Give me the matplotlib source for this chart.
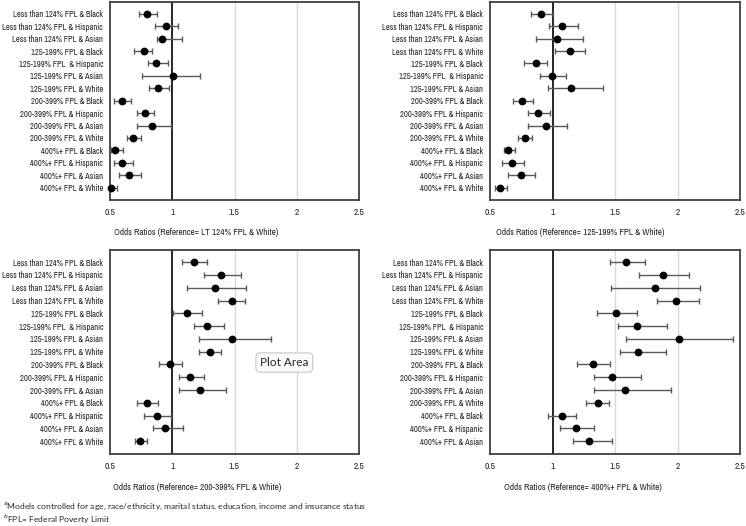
import matplotlib
matplotlib.use("Agg")
import matplotlib.pyplot as plt
from matplotlib import font_manager
import numpy as np

names = sorted({f.name for f in font_manager.fontManager.ttflist})
narrow = [n for n in names if "Narrow" in n or "Condensed" in n]
fam = narrow[0] if narrow else "Lato"
plt.rcParams['font.family'] = [fam, 'DejaVu Sans']

# ---------------- data ----------------
labels1 = ["Less than 124% FPL & Black", "Less than 124% FPL & Hispanic", "Less than 124% FPL & Asian",
           "125-199% FPL & Black", "125-199% FPL  & Hispanic", "125-199% FPL & Asian", "125-199% FPL & White",
           "200-399% FPL & Black", "200-399% FPL & Hispanic", "200-399% FPL & Asian", "200-399% FPL & White",
           "400%+ FPL & Black", "400%+ FPL & Hispanic", "400%+ FPL & Asian", "400%+ FPL & White"]
or1 = [0.80, 0.95, 0.915, 0.77, 0.873, 1.01, 0.883, 0.60, 0.784, 0.838, 0.682, 0.543, 0.60, 0.65, 0.505]
lo1 = [0.736, 0.862, 0.875, 0.696, 0.806, 0.76, 0.814, 0.532, 0.714, 0.714, 0.634, 0.505, 0.532, 0.575, 0.50]
hi1 = [0.875, 1.05, 1.079, 0.84, 0.969, 1.224, 0.972, 0.665, 0.854, 0.99, 0.747, 0.607, 0.688, 0.747, 0.554]

labels2 = ["Less than 124% FPL & Black", "Less than 124% FPL & Hispanic", "Less than 124% FPL & Asian",
           "Less than 124% FPL & White", "125-199% FPL & Black", "125-199% FPL  & Hispanic", "125-199% FPL & Asian",
           "200-399% FPL & Black", "200-399% FPL & Hispanic", "200-399% FPL & Asian", "200-399% FPL & White",
           "400%+ FPL & Black", "400%+ FPL & Hispanic", "400%+ FPL & Asian", "400%+ FPL & White"]
or2 = [0.908, 1.076, 1.039, 1.137, 0.865, 0.999, 1.145, 0.753, 0.881, 0.945, 0.777, 0.644, 0.676, 0.745, 0.577]
lo2 = [0.825, 0.972, 0.865, 1.02, 0.772, 0.90, 0.961, 0.681, 0.804, 0.804, 0.727, 0.615, 0.599, 0.644, 0.54]
hi2 = [1.007, 1.207, 1.241, 1.26, 0.953, 1.108, 1.407, 0.841, 0.98, 1.119, 0.839, 0.70, 0.772, 0.857, 0.633]

labels3 = ["Less than 124% FPL & Black", "Less than 124% FPL & Hispanic", "Less than 124% FPL & Asian",
           "Less than 124% FPL & White", "125-199% FPL & Black", "125-199% FPL  & Hispanic", "125-199% FPL & Asian",
           "125-199% FPL & White", "200-399% FPL & Black", "200-399% FPL & Hispanic", "200-399% FPL & Asian",
           "400%+ FPL & Black", "400%+ FPL & Hispanic", "400%+ FPL & Asian", "400%+ FPL & White"]
or3 = [1.178, 1.393, 1.347, 1.479, 1.117, 1.283, 1.479, 1.307, 0.985, 1.146, 1.221, 0.798, 0.875, 0.942, 0.744]
lo3 = [1.076, 1.256, 1.122, 1.371, 1.007, 1.176, 1.218, 1.216, 0.891, 1.055, 1.055, 0.714, 0.776, 0.843, 0.698]
hi3 = [1.277, 1.551, 1.594, 1.586, 1.237, 1.417, 1.792, 1.393, 1.076, 1.256, 1.43, 0.883, 0.99, 1.084, 0.80]

labels4 = ["Less than 124% FPL & Black", "Less than 124% FPL & Hispanic", "Less than 124% FPL & Asian",
           "Less than 124% FPL & White", "125-199% FPL & Black", "125-199% FPL  & Hispanic", "125-199% FPL & Asian",
           "125-199% FPL & White", "200-399% FPL & Black", "200-399% FPL & Hispanic", "200-399% FPL & Asian",
           "200-399% FPL & White", "400%+ FPL & Black", "400%+ FPL & Hispanic", "400%+ FPL & Asian"]
or4 = [1.588, 1.885, 1.816, 1.989, 1.508, 1.674, 2.008, 1.684, 1.324, 1.479, 1.578, 1.361, 1.078, 1.184, 1.294]
lo4 = [1.457, 1.695, 1.468, 1.837, 1.356, 1.521, 1.588, 1.537, 1.195, 1.329, 1.329, 1.27, 0.96, 1.061, 1.16]
hi4 = [1.738, 2.094, 2.179, 2.171, 1.676, 1.917, 2.441, 1.909, 1.463, 1.709, 1.949, 1.449, 1.19, 1.334, 1.476]

xlabels = ["Odds Ratios (Reference= LT 124% FPL & White)",
           "Odds Ratios (Reference= 125-199% FPL & White)",
           "Odds Ratios (Reference= 200-399% FPL & White)",
           "Odds Ratios (Reference= 400%+ FPL & White)"]
xticks = [0.5, 1, 1.5, 2, 2.5]
xticklabels = ["0.5", "1", "1.5", "2", "2.5"]

footnote1 = r"$^{a}$Models controlled for age, race/ethnicity, marital status, education, income and insurance status"
footnote2 = r"$^{b}$FPL= Federal Poverty Limit"

# ---------------- layout ----------------
W, H = 746, 526
fig = plt.figure(figsize=(W / 100, H / 100), dpi=100)

def rect(l, t, r, b):
    return [l / W, 1 - b / H, (r - l) / W, (b - t) / H]

panels = [
    (rect(110, 2, 359, 200), labels1, or1, lo1, hi1, xlabels[0], 0.345),
    (rect(490, 2, 740, 200), labels2, or2, lo2, hi2, xlabels[1], 0.36),
    (rect(110, 250, 359, 454), labels3, or3, lo3, hi3, xlabels[2], 0.35),
    (rect(490, 250, 740, 454), labels4, or4, lo4, hi4, xlabels[3], 0.37),
]

axes = []
for pos, labs, o, lo, hi, xl, xlx in panels:
    ax = fig.add_axes(pos)
    y = np.arange(1, len(labs) + 1)
    o = np.array(o); lo = np.array(lo); hi = np.array(hi)
    for xv in [1.5, 2, 2.5]:
        ax.axvline(xv, color="#d9d9d9", lw=1.0, zorder=0)
    ax.axvline(1, color="#262626", lw=1.4, zorder=1)
    ax.errorbar(o, y, xerr=[o - lo, hi - o], fmt="o", color="black", ms=4.6,
                ecolor="#595959", elinewidth=1.0, capsize=2.5, capthick=1.0, zorder=3, clip_on=False)
    ax.set_xlim(0.5, 2.5)
    ax.set_ylim(len(labs) + 1, 0.05)
    ax.set_yticks(y)
    ax.set_yticklabels(labs, fontsize=6.1, color="#262626")
    ax.set_xticks(xticks)
    ax.set_xticklabels(xticklabels, fontsize=6.8, color="#262626")
    ax.tick_params(axis="x", length=0, pad=6)
    ax.tick_params(axis="y", length=0, pad=5)
    for sp in ax.spines.values():
        sp.set_color("#404040")
        sp.set_linewidth(1.3)
    ax.set_xlabel(xl, fontsize=6.6, color="#262626")
    ax.xaxis.set_label_coords(xlx, -0.14)
    axes.append(ax)

# Excel "Plot Area" tooltip
axes[2].text(1.9, 8.85, "Plot Area", fontsize=8.5, color="#262626", ha="center", va="center",
             family=["Lato", "DejaVu Sans"],
             bbox=dict(boxstyle="round,pad=0.35", fc="#fbfbfb", ec="#c8c8c8", lw=0.8), zorder=5)

fig.text(3 / W, 1 - 506 / H, footnote1, fontsize=6.1, color="#262626", va="center", ha="left",
         family=["Lato", "DejaVu Sans"])
fig.text(3 / W, 1 - 519 / H, footnote2, fontsize=6.1, color="#262626", va="center", ha="left",
         family=["Lato", "DejaVu Sans"])

fig.savefig("out.png", dpi=100, facecolor="white")
